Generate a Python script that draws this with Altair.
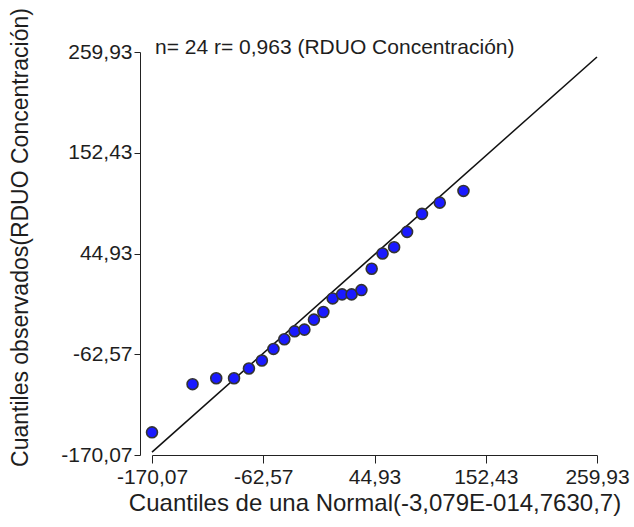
import altair as alt
import pandas as pd

x_quant = [-170.07, -130.9, -108.0, -90.8, -76.4, -63.9, -52.7, -42.2, -32.3, -22.8,
           -13.6, -4.5, 4.5, 13.6, 22.8, 32.3, 42.2, 52.7, 63.9, 76.4, 90.8, 108.0, 130.9]
y_obs = [-145.9, -94.5, -88.2, -88.2, -77.8, -69.3, -56.9, -46.6, -38.1, -36.3,
         -25.6, -17.5, -3.0, 1.3, 1.3, 5.9, 28.7, 44.9, 51.7, 68.0, 87.2, 99.2, 111.7]

line_x = [-170.07, 259.93]
line_y = [-167.0, 254.6]

tick_vals = [-170.07, -62.57, 44.93, 152.43, 259.93]
domain = [-170.07, 259.93]

annot_text = ["n= 24 r= 0,963 (RDUO Concentración)"]
x_title = "Cuantiles de una Normal(-3,079E-014,7630,7)"
y_title = "Cuantiles observados(RDUO Concentración)"

pts = pd.DataFrame({"x": x_quant, "y": y_obs})
ln = pd.DataFrame({"x": line_x, "y": line_y})
ann = pd.DataFrame({"x": [domain[0]], "y": [domain[1]], "t": annot_text})

FONT = "Liberation Sans"
TXT = "#1e1e1e"
label_expr = "replace(replace(format(datum.value, '.2f'), '.', ','), '\u2212', '-')"

xs = alt.Scale(domain=domain, nice=False, zero=False)
ys = alt.Scale(domain=domain, nice=False, zero=False)

x_axis = alt.Axis(values=tick_vals, labelExpr=label_expr, title=x_title, grid=False,
                  tickSize=8, labelPadding=3, titlePadding=4, labelFontSize=21,
                  titleFontSize=24, labelColor=TXT, titleColor=TXT,
                  labelFont=FONT, titleFont=FONT, titleFontWeight="normal",
                  domainColor="#222", tickColor="#222", labelFlush=False,
                  labelOverlap=False)
y_axis = alt.Axis(values=tick_vals, labelExpr=label_expr, title=y_title, grid=False,
                  tickSize=6, labelPadding=2, titlePadding=28, offset=12,
                  titleY=185,
                  labelFontSize=21, titleFontSize=23, labelColor=TXT,
                  titleColor=TXT, labelFont=FONT, titleFont=FONT,
                  titleFontWeight="normal", domainColor="#222", tickColor="#222",
                  labelFlush=False, labelOverlap=False)

line = alt.Chart(ln).mark_line(color="#111", strokeWidth=1.6).encode(
    x=alt.X("x:Q", scale=xs, axis=x_axis),
    y=alt.Y("y:Q", scale=ys, axis=y_axis),
)

points = alt.Chart(pts).mark_point(
    filled=True, fill="#1a1aff", stroke="#333", strokeWidth=1.6, size=120, opacity=1,
    shape="circle"
).encode(x="x:Q", y="y:Q")

text = alt.Chart(ann).mark_text(
    align="left", baseline="middle", dx=3, dy=-4, font=FONT, fontSize=21, color=TXT
).encode(x="x:Q", y="y:Q", text="t:N")

chart = alt.layer(line, points, text).properties(
    width=445, height=403,
    autosize=alt.AutoSizeParams(type="none"),
    padding={"left": 152, "top": 52, "right": 37, "bottom": 72},
    background="white",
).configure_view(stroke=None)

chart.save("out.html", embed_options={"renderer": "svg", "actions": False})
